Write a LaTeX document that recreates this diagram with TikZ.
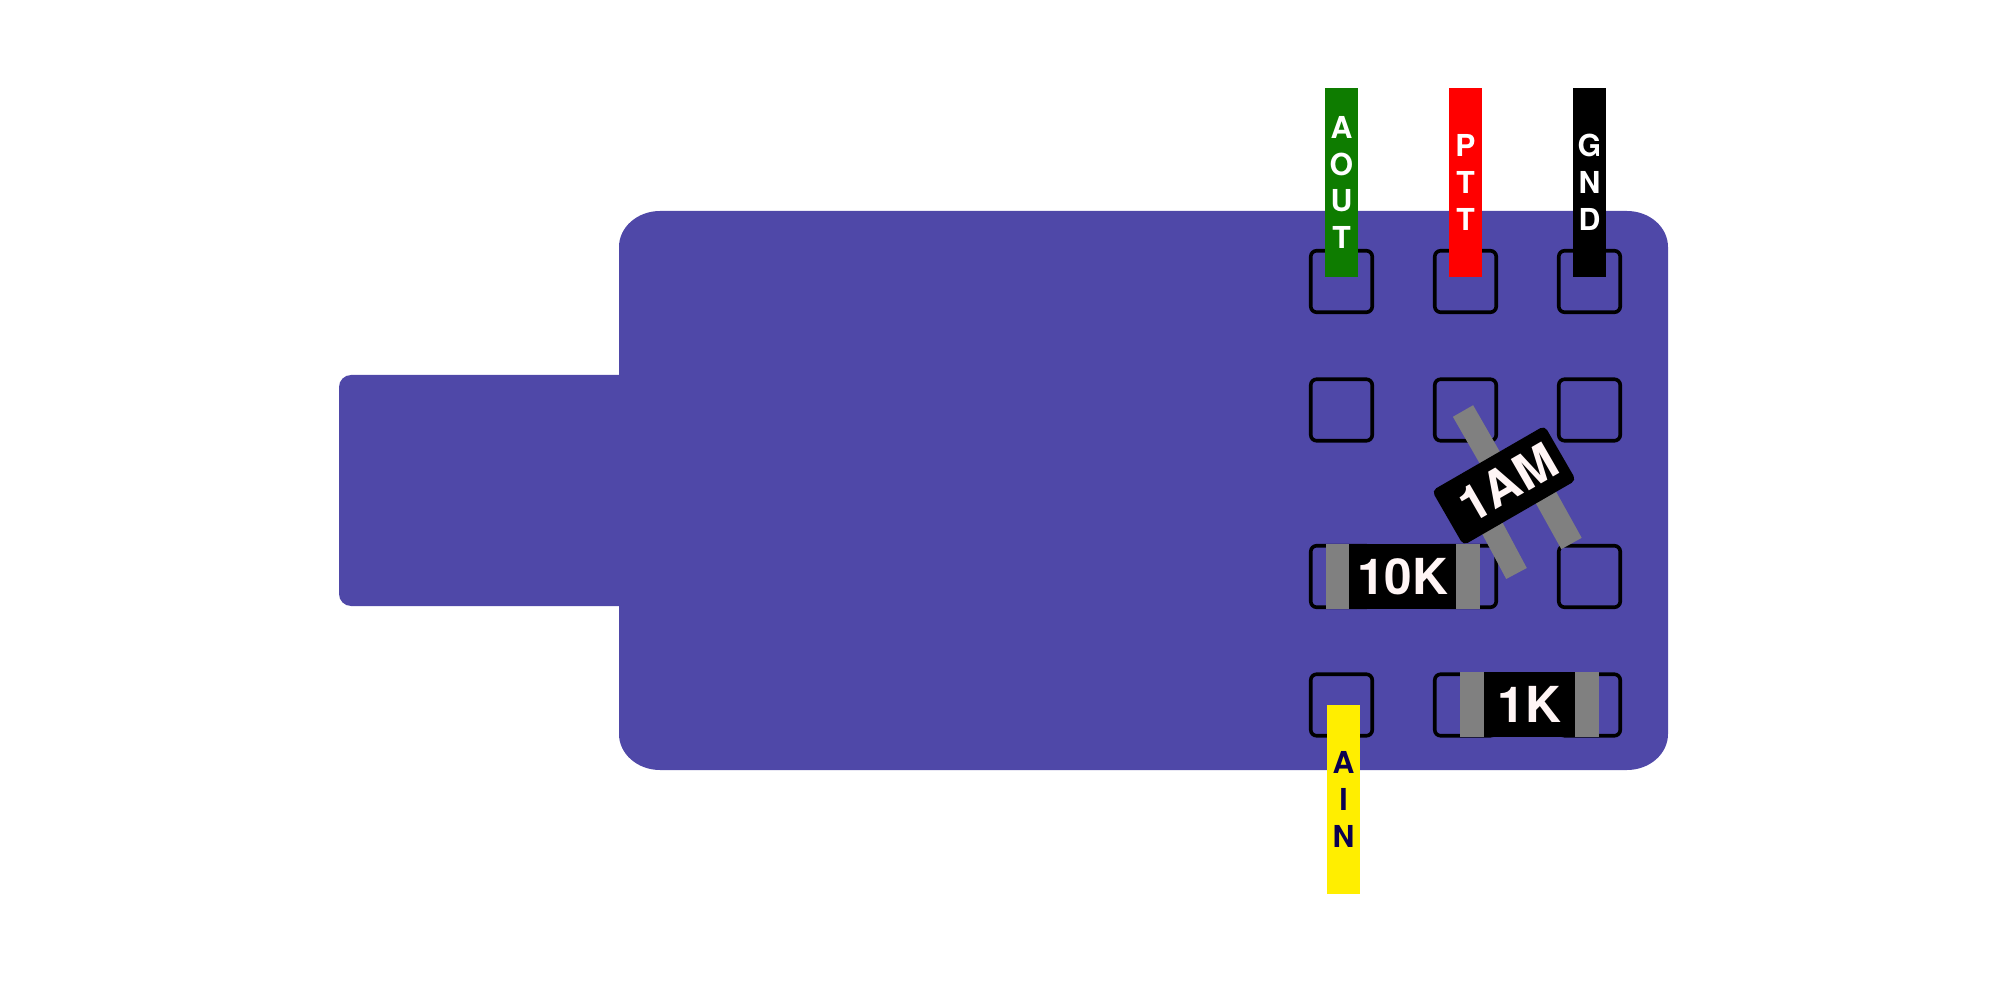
\documentclass[tikz,border=0pt]{standalone}
\usepackage{xcolor}
\usepackage{fontspec}
\setmainfont{TeX Gyre Heros}
\definecolor{boardblue}{HTML}{4F48A8}
\definecolor{wiregreen}{HTML}{0E7C00}
\definecolor{wireyellow}{HTML}{FFEE00}
\definecolor{leadgray}{HTML}{808080}
\definecolor{partwhite}{HTML}{FFF5F5}
\definecolor{ainnavy}{HTML}{0A0050}

\begin{document}
\begin{tikzpicture}[x=0.01cm, y=-0.01cm,
    pad/.style={draw=black, line width=0.036cm, rounded corners=0.06cm, minimum size=0.615cm, inner sep=0pt},
    wirelabel/.style={minimum width=0.33cm, minimum height=1.89cm, inner sep=0pt, align=center,
        font=\fontsize{8.6}{10.45}\selectfont\bfseries},
    lead/.style={draw=leadgray, line width=0.233cm},
    part/.style={fill=black, text=partwhite, minimum height=0.65cm, inner sep=0pt,
        font=\fontsize{14.1}{16}\selectfont\bfseries}]
    \useasboundingbox (0,0) rectangle (2008,982);

    % Board with the tab on its left
    \fill[boardblue] (619,247) arc[start angle=180, end angle=270, x radius=41, y radius=36]
        -- (1627,211) arc[start angle=270, end angle=360, x radius=41, y radius=36]
        -- (1668,734) arc[start angle=0, end angle=90, x radius=41, y radius=36]
        -- (660,770) arc[start angle=90, end angle=180, x radius=41, y radius=36]
        -- (619,606) -- (351,606) arc[start angle=90, end angle=180, radius=12]
        -- (339,387) arc[start angle=180, end angle=270, radius=12]
        -- (619,375) -- cycle;

    % Pads
    \node[pad] (pad11) at (1341.5,281.5) {};
    \node[pad] (pad12) at (1465.5,281.5) {};
    \node[pad] (pad13) at (1589.5,281.5) {};
    \node[pad] (pad21) at (1341.5,410) {};
    \node[pad] (pad22) at (1465.5,410) {};
    \node[pad] (pad23) at (1589.5,410) {};
    \node[pad] (pad31) at (1341.5,576.5) {};
    \node[pad] (pad32) at (1465.5,576.5) {};
    \node[pad] (pad33) at (1589.5,576.5) {};
    \node[pad] (pad41) at (1341.5,705) {};
    \node[pad] (pad42) at (1465.5,705) {};
    \node[pad] (pad43) at (1589.5,705) {};

    % Wire labels
    \node[wirelabel, fill=wiregreen, text=white] (aout) at (1341.5,182.5) {A\\O\\U\\T};
    \node[wirelabel, fill=red, text=white] (ptt) at (1465.5,182.5) {P\\T\\T};
    \node[wirelabel, fill=black, text=white] (gnd) at (1589.5,182.5) {G\\N\\D};
    \node[wirelabel, fill=wireyellow, text=ainnavy] (ain) at (1343.5,799.5) {A\\I\\N};

    % 10K resistor
    \fill[leadgray] (1326,544) rectangle (1349,609);
    \fill[leadgray] (1456,544) rectangle (1480,609);
    \node[part, minimum width=1.07cm] (res10k) at (1402.5,576.5) {10K};

    % 1K resistor
    \fill[leadgray] (1460,672) rectangle (1484,737);
    \fill[leadgray] (1575,672) rectangle (1599,737);
    \node[part, minimum width=0.91cm] (res1k) at (1529.5,704.5) {1K\hspace{0.05cm}};

    % 1AM part, turned by 30 degrees
    \draw[lead] (1463,411) -- (1490,458);
    \draw[lead] (1489,522) -- (1516.5,573.5);
    \draw[lead] (1544,494) -- (1571.5,543.5);
    \node[part, minimum width=1.3cm, minimum height=0.63cm, rounded corners=0.05cm, rotate=30] (res1am) at (1504,485.5) {\hspace{0.09cm}\raisebox{0.02cm}{1AM}};
\end{tikzpicture}
\end{document}
